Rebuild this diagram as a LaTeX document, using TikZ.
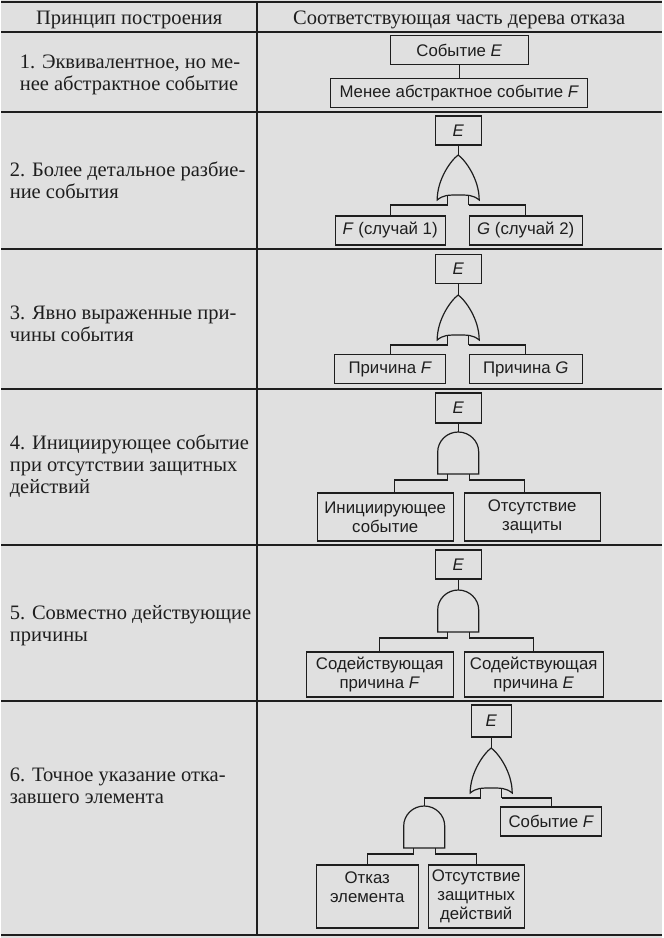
\documentclass[tikz,border=0pt]{standalone}
\usepackage{fontspec}
\setmainfont{Liberation Serif}
\setsansfont{Liberation Sans}
\usetikzlibrary{positioning, calc}
\definecolor{paper}{RGB}{224,224,224}
\definecolor{ink}{RGB}{30,30,30}

\newcommand{\principlefont}{\fontsize{10.25}{11}\selectfont}
\newcommand{\treefont}{\sffamily\fontsize{8.4}{9.5}\selectfont}

\tikzset{
  orgate/.pic={
    \draw (0,0) .. controls (-7,5) and (-21,24) .. (-21,45)
      .. controls (-15,40) and (-10,40) .. (0,40)
      .. controls (10,40) and (15,40) .. (21,45)
      .. controls (21,24) and (7,5) .. (0,0) -- cycle;
    \draw (-10.5,40.3) -- (-10.5,50) coordinate (-in1);
    \draw (10.5,40.3) -- (10.5,50) coordinate (-in2);
    \coordinate (-top) at (0,0);
  },
  andgate/.pic={
    \draw (-20.5,42) -- (-20.5,20) .. controls (-20.5,9) and (-11.3,0) .. (0,0)
      .. controls (11.3,0) and (20.5,9) .. (20.5,20) -- (20.5,42) -- cycle;
    \draw (-10.5,42) -- (-10.5,48) coordinate (-in1);
    \draw (11,42) -- (11,48) coordinate (-in2);
    \coordinate (-top) at (0,0);
  },
}

\begin{document}
\begin{tikzpicture}[x=0.5pt, y=-0.5pt, color=ink, line width=0.6pt,
    head/.style={anchor=base, font=\principlefont, inner sep=0pt},
    principle/.style={anchor=base west, align=left, font=\principlefont, inner sep=0pt},
    evt/.style={draw, font=\treefont, align=center, inner sep=0pt, minimum height=14.5pt},
    rule/.style={line width=0.8pt}]

    % Paper
    \fill[paper] (0,0) rectangle (661,938);

    % Table
    \draw[line width=1pt] (0,2) -- (661,2);
    \draw[rule] (0,32) -- (661,32);
    \draw[rule] (0,112) -- (661,112);
    \draw[rule] (0,249) -- (661,249);
    \draw[rule] (0,389) -- (661,389);
    \draw[rule] (0,545) -- (661,545);
    \draw[rule] (0,701) -- (661,701);
    \draw[line width=1.2pt] (0,935) -- (661,935);
    \draw[rule] (256,2) -- (256,935);

    % Header
    \node[head] (h1) at (128,24) {Принцип построения};
    \node[head] (h2) at (458,24) {Соответствующая часть дерева отказа};

    % Principles (anchored at the last line)
    \node[principle] (p1) at (18,90) {1. Эквивалентное, но ме-\\нее абстрактное событие};
    \node[principle] (p2) at (8,198) {2. Более детальное разбие-\\ние события};
    \node[principle] (p3) at (8,341) {3. Явно выраженные при-\\чины события};
    \node[principle] (p4) at (8,493) {4. Инициирующее событие\\при отсутствии защитных\\действий};
    \node[principle] (p5) at (8,641) {5. Совместно действующие\\причины};
    \node[principle] (p6) at (8,803) {6. Точное указание отка-\\завшего элемента};

    % Row 1
    \node[evt, minimum width=69pt] (e1) at (458,50) {Событие \textit{E}};
    \node[evt, minimum width=128.5pt] (f1) at (458,93) {Менее абстрактное событие \textit{F}};
    \draw (e1) -- (f1);

    % Row 2
    \node[evt, minimum width=23pt] (e2) at (457,130.5) {\textit{E}};
    \pic (g2) at (457,155) {orgate};
    \node[evt, minimum width=55pt] (f2) at (389,230.5) {\textit{F} (случай 1)};
    \node[evt, minimum width=56.5pt] (c2) at (524.5,230.5) {\textit{G} (случай 2)};
    \draw (e2) -- (g2-top);
    \draw (g2-in1) -| (f2.north);
    \draw (g2-in2) -| (c2.north);

    % Row 3
    \node[evt, minimum width=23pt] (e3) at (457,269) {\textit{E}};
    \pic (g3) at (457,295) {orgate};
    \node[evt, minimum width=55.5pt] (f3) at (389,369) {Причина \textit{F}};
    \node[evt, minimum width=56.5pt] (c3) at (524.5,369) {Причина \textit{G}};
    \draw (e3) -- (g3-top);
    \draw (g3-in1) -| (f3.north);
    \draw (g3-in2) -| (c3.north);

    % Row 4
    \node[evt, minimum width=23pt, minimum height=15pt] (e4) at (457,408) {\textit{E}};
    \pic (g4) at (457,432) {andgate};
    \node[evt, minimum width=68pt, minimum height=24pt] (i4) at (384,517) {Инициирующее\\событие};
    \node[evt, minimum width=68pt, minimum height=24pt] (d4) at (531,517) {Отсутствие\\защиты};
    \draw (e4) -- (g4-top);
    \draw (g4-in1) -| ([xshift=4.5pt]i4.north);
    \draw (g4-in2) -| ([xshift=-4pt]d4.north);

    % Row 5
    \node[evt, minimum width=23pt] (e5) at (457,564.5) {\textit{E}};
    \pic (g5) at (457,590) {andgate};
    \node[evt, minimum width=73.5pt, minimum height=22.5pt] (s5a) at (378.5,674.5) {Содействующая\\причина \textit{F}};
    \node[evt, minimum width=69.5pt, minimum height=22.5pt] (s5b) at (532.5,674.5) {Содействующая\\причина \textit{E}};
    \draw (e5) -- (g5-top);
    \draw (g5-in1) -| (s5a.north);
    \draw (g5-in2) -| (s5b.north);

    % Row 6
    \node[evt, minimum width=20pt, minimum height=16pt] (e6) at (490,721) {\textit{E}};
    \pic (g6) at (490,748) {orgate};
    \pic (g6b) at (423,806) {andgate};
    \node[evt, minimum width=50.5pt] (f6) at (550,821.5) {Событие \textit{F}};
    \node[evt, minimum width=51pt, minimum height=31.5pt] (k6) at (366,896.5) {Отказ\\элемента\\\mbox{}};
    \node[evt, minimum width=48pt, minimum height=31.5pt] (z6) at (475,896.5) {Отсутствие\\защитных\\действий};
    \draw (e6) -- (g6-top);
    \draw (g6-in1) -| (g6b-top);
    \draw (g6-in2) -| (f6.north);
    \draw (g6b-in1) -| (k6.north);
    \draw (g6b-in2) -| (z6.north);
\end{tikzpicture}
\end{document}
